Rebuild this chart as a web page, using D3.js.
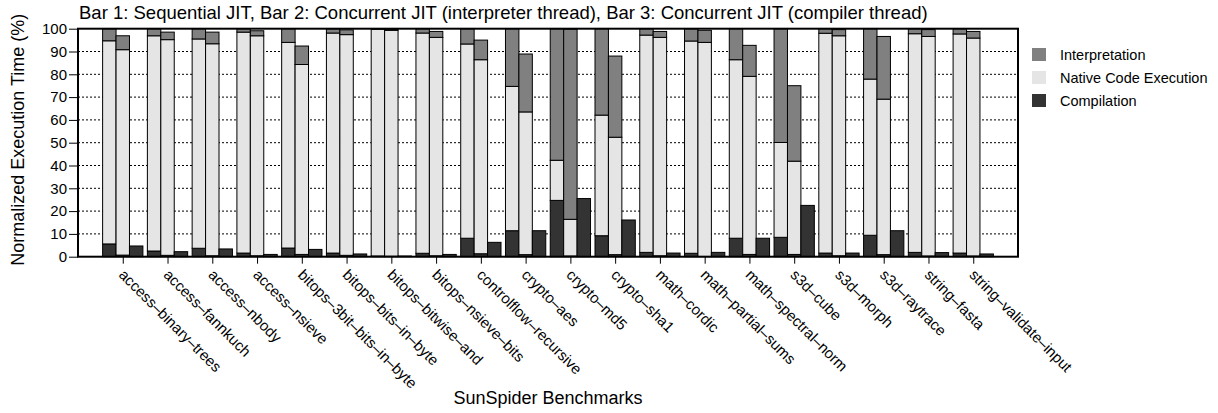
<!DOCTYPE html>
<html>
<head>
<meta charset="utf-8">
<script src="https://cdn.jsdelivr.net/npm/d3@7"></script>
<style>
  body { margin: 0; background: #fff; }
  text { font-family: "Liberation Sans", Arial, sans-serif; fill: #000; }
</style>
</head>
<body>
<div id="chart"></div>
<script>
// benchmark names (x categories)
var benchmarks = ["access–binary–trees", "access–fannkuch", "access–nbody", "access–nsieve",
  "bitops–3bit–bits–in–byte", "bitops–bits–in–byte", "bitops–bitwise–and", "bitops–nsieve–bits",
  "controlflow–recursive", "crypto–aes", "crypto–md5", "crypto–sha1", "math–cordic",
  "math–partial–sums", "math–spectral–norm", "s3d–cube", "s3d–morph", "s3d–raytrace",
  "string–fasta", "string–validate–input"];

// Bar 1: sequential JIT (%)
var seqCompilation    = [5.6, 2.5, 3.7, 1.6, 3.8, 1.6, 0.3, 1.5, 8.1, 11.4, 24.7, 9.2, 1.9, 1.5, 8.1, 8.5, 1.6, 9.4, 1.9, 1.6];
var seqNative         = [89.1, 94.4, 91.8, 96.9, 90.2, 96.5, 99.5, 96.6, 85.2, 63.3, 17.6, 52.9, 95.3, 93.1, 78.3, 41.6, 96.4, 68.5, 95.9, 96.1];
var seqInterpretation = [5.3, 3.1, 4.5, 1.5, 6.0, 1.9, 0.2, 1.9, 6.7, 25.3, 57.7, 37.9, 2.8, 5.4, 13.6, 49.9, 2.0, 22.1, 2.2, 2.3];

// Bar 2: concurrent JIT, interpreter thread (%)
var intCompilation    = [0.7, 0.6, 0.4, 0.4, 1.0, 0.6, 0.2, 0.4, 1.3, 0.9, 0.3, 0.9, 0.4, 0.1, 1.0, 1.0, 0.4, 0.9, 0.3, 0.3];
var intNative         = [90.1, 94.6, 93.0, 96.5, 83.3, 96.8, 99.1, 95.8, 85.1, 62.6, 16.1, 51.5, 95.8, 93.9, 78.1, 40.9, 96.5, 68.2, 96.3, 95.6];
var intInterpretation = [6.1, 3.3, 5.1, 2.2, 8.1, 2.1, 0.5, 2.6, 8.6, 25.4, 83.4, 35.6, 2.6, 5.3, 13.6, 33.1, 2.7, 27.5, 3.0, 2.9];

// Bar 3: concurrent JIT, compiler thread (%)
var cmpCompilation    = [4.7, 2.2, 3.4, 1.0, 3.2, 1.2, 0.3, 1.0, 6.3, 11.4, 25.5, 16.1, 1.6, 1.9, 8.1, 22.5, 1.6, 11.4, 1.8, 1.2];

var yTicks = [0, 10, 20, 30, 40, 50, 60, 70, 80, 90, 100];

var keys = ["comp", "native", "interp"];
var colors = { comp: "#333333", native: "#e5e5e5", interp: "#808080" };
var legendItems = [["interp", "Interpretation"], ["native", "Native Code Execution"], ["comp", "Compilation"]];

var width = 1218, height = 413;
var plotL = 78, plotR = 1018, plotT = 28.7, plotB = 256.7;

var svg = d3.select("#chart").append("svg")
  .attr("width", width)
  .attr("height", height);

var x = d3.scaleLinear().domain([-1, benchmarks.length]).range([plotL, plotR]);
var y = d3.scaleLinear().domain([0, 100]).range([plotB, plotT]);
var bw = x(0.3) - x(0);

// dotted grid
svg.append("g").selectAll("line")
  .data(yTicks.filter(function(v) { return v > 0 && v < 100; }))
  .enter().append("line")
  .attr("x1", plotL).attr("x2", plotR)
  .attr("y1", function(d) { return y(d); })
  .attr("y2", function(d) { return y(d); })
  .attr("stroke", "#000")
  .attr("stroke-width", 1)
  .attr("stroke-dasharray", "2,2");

var stack = d3.stack().keys(keys);

function rowsOf(c, n, it) {
  return benchmarks.map(function(b, i) {
    return { i: i, comp: c[i], native: n[i], interp: it[i] };
  });
}

function drawBars(rows, slot) {
  stack(rows).forEach(function(layer) {
    svg.append("g").selectAll("rect")
      .data(layer)
      .enter().append("rect")
      .attr("x", function(d) { return x(d.data.i) + (slot - 1.5) * bw; })
      .attr("y", function(d) { return y(d[1]); })
      .attr("width", bw)
      .attr("height", function(d) { return y(d[0]) - y(d[1]); })
      .attr("fill", colors[layer.key])
      .attr("stroke", "#000")
      .attr("stroke-width", 1);
  });
}

drawBars(rowsOf(seqCompilation, seqNative, seqInterpretation), 0);
drawBars(rowsOf(intCompilation, intNative, intInterpretation), 1);

// compiler thread bars, compilation only
svg.append("g").selectAll("rect")
  .data(cmpCompilation)
  .enter().append("rect")
  .attr("x", function(d, i) { return x(i) + 0.5 * bw; })
  .attr("y", function(d) { return y(d); })
  .attr("width", bw)
  .attr("height", function(d) { return y(0) - y(d); })
  .attr("fill", colors.comp)
  .attr("stroke", "#000")
  .attr("stroke-width", 1);

// axes
var yAxis = svg.append("g")
  .attr("transform", "translate(" + plotL + ",0)")
  .call(d3.axisLeft(y).tickValues(yTicks).tickSize(9).tickPadding(2));
yAxis.select(".domain").remove();
yAxis.selectAll("line").attr("stroke", "#000");
yAxis.selectAll("text").style("font-size", "15px").attr("font-family", null);

var xAxis = svg.append("g")
  .attr("transform", "translate(0," + plotB + ")")
  .call(d3.axisBottom(x).tickValues(d3.range(benchmarks.length)).tickSize(7)
    .tickFormat(function(i) { return benchmarks[i]; }));
xAxis.select(".domain").remove();
xAxis.selectAll("line").attr("stroke", "#000");
xAxis.selectAll("text")
  .attr("font-family", null)
  .style("font-size", "15px")
  .attr("text-anchor", "start")
  .attr("x", 9.7)
  .attr("y", 17.2)
  .attr("dy", 0)
  .attr("transform", "rotate(45)");

// plot border
svg.append("rect")
  .attr("x", plotL).attr("y", plotT)
  .attr("width", plotR - plotL).attr("height", plotB - plotT)
  .attr("fill", "none")
  .attr("stroke", "#000")
  .attr("stroke-width", 2);

// titles
svg.append("text")
  .attr("x", 79).attr("y", 19)
  .style("font-size", "18.5px")
  .text("Bar 1: Sequential JIT, Bar 2: Concurrent JIT (interpreter thread), Bar 3: Concurrent JIT (compiler thread)");

svg.append("text")
  .attr("transform", "translate(24," + ((plotT + plotB) / 2 - 3) + ") rotate(-90)")
  .attr("text-anchor", "middle")
  .style("font-size", "18px")
  .text("Normalized Execution Time (%)");

svg.append("text")
  .attr("x", (plotL + plotR) / 2).attr("y", 404)
  .attr("text-anchor", "middle")
  .style("font-size", "18px")
  .text("SunSpider Benchmarks");

// legend
var legend = svg.append("g").attr("transform", "translate(1032,48)");
legendItems.forEach(function(it, k) {
  legend.append("rect")
    .attr("x", 0).attr("y", k * 23)
    .attr("width", 14).attr("height", 13)
    .attr("fill", colors[it[0]]);
  legend.append("text")
    .attr("x", 28).attr("y", k * 23 + 11.5)
    .style("font-size", "14.5px")
    .text(it[1]);
});
</script>
</body>
</html>
